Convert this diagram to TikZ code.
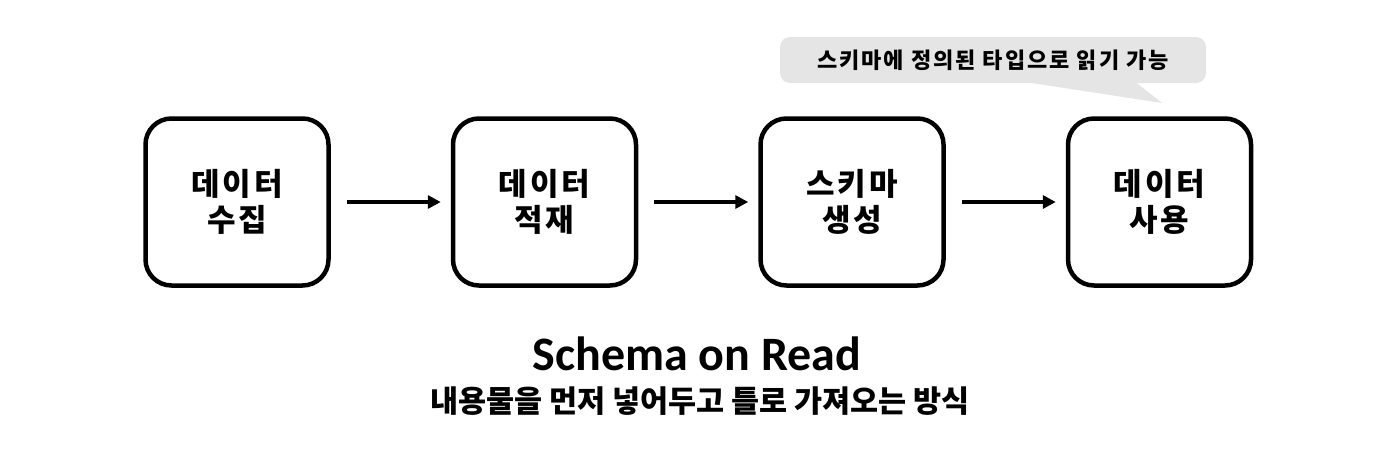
\documentclass[tikz,border=0pt]{standalone}
\usepackage{fontspec}
\setmainfont{Carlito}
\newfontfamily\kr{Noto Sans CJK KR}
\newfontfamily\krwide{Noto Sans CJK KR}[LetterSpace=9]
\usepackage{tikz}
\usetikzlibrary{arrows.meta,positioning}

\begin{document}
\begin{tikzpicture}[x=1pt, y=-1pt, >=Triangle, node distance=120pt,
  stage/.style={draw, line width=4.5pt, rounded corners=26pt, minimum width=183pt,
    minimum height=167pt, align=center, font=\krwide\bfseries\fontsize{31}{36}\selectfont},
  flow/.style={->, line width=3.5pt, shorten <=16pt, shorten >=10pt,
    -{Triangle[length=13pt,width=13pt]}}]
\useasboundingbox (0,0) rectangle (1386,450);
\node[stage] (collect) at (237,202) {데이터\\수집};
\node[stage,right=of collect] (load) {데이터\\적재};
\node[stage,right=of load] (schema) {스키마\\생성};
\node[stage,right=of schema] (use) {데이터\\사용};
\draw[flow] (collect) -- (load);
\draw[flow] (load) -- (schema);
\draw[flow] (schema) -- (use);
% speech bubble over the last step
\node[fill=black!10, rounded corners=10pt, minimum width=426pt, minimum height=46pt,
  font=\krwide\bfseries\fontsize{22}{24}\selectfont] (note) at (993,60) {스키마에 정의된 타입으로 읽기 가능};
\coordinate (tip) at (1162,103);
\fill[black!10] ([xshift=40pt]note.south) -- (tip) -- ([xshift=144pt]note.south) -- cycle;
\node[font=\bfseries\fontsize{48}{52}\selectfont] (title) at (697,354) {Schema on Read};
\node[font=\kr\bfseries\fontsize{30.5}{32}\selectfont] (sub) at (700,401) {내용물을 먼저 넣어두고 틀로 가져오는 방식};
\end{tikzpicture}
\end{document}
